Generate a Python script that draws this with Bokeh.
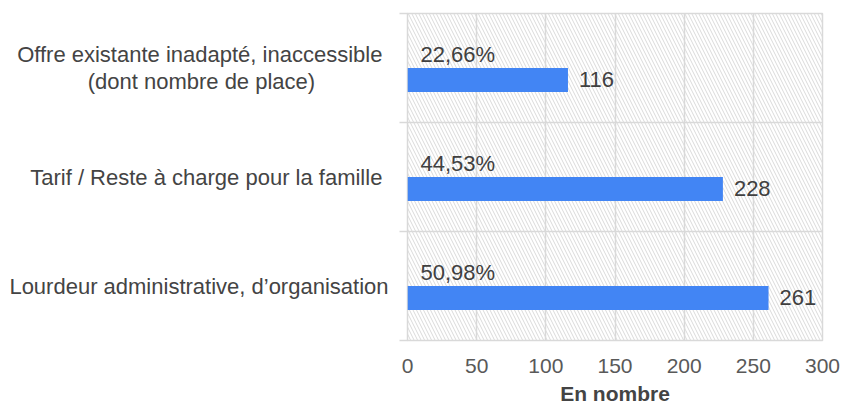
from bokeh.plotting import figure
from bokeh.models import (ColumnDataSource, Range1d, LinearAxis, FixedTicker, BoxAnnotation)
from bokeh.transform import dodge
from bokeh.embed import file_html
from bokeh.resources import INLINE
from bokeh.core.properties import value

NB = "\u00a0"
# Data (bottom to top)
categories = ["Lourdeur administrative, d\u2019organisation",
              "Tarif / Reste \u00e0 charge pour la famille" + NB,
              "Offre existante inadapt\u00e9, inaccessible" + NB + "\n(dont nombre de place)" + NB * 12]
counts = [261, 228, 116]
percents = [50.98, 44.53, 22.66]
x_ticks = [0, 50, 100, 150, 200, 250, 300]

FONT = "Liberation Sans"
GRID = "#d9d9d9"
n = len(categories)
centers = [i + 0.5 for i in range(n)]
bounds = list(range(n + 1))

src = ColumnDataSource(dict(
    pos=centers,
    count=counts,
    count_label=[str(c) for c in counts],
    pct_label=[("%.2f%%" % p).replace(".", ",") for p in percents],
    zero=[0] * n,
))

p = figure(width=841, height=407, output_backend="svg", toolbar_location=None,
           y_range=Range1d(0, n), x_range=Range1d(0, 300),
           y_axis_location=None, x_axis_location=None,
           min_border_left=407, min_border_right=19, min_border_top=13, min_border_bottom=67)

p.outline_line_color = GRID
p.outline_line_width = 1.5

# hatched background
p.add_layout(BoxAnnotation(fill_color=None, line_color=None, hatch_pattern="\\",
                           hatch_color="#dadada", hatch_scale=7, hatch_weight=1,
                           level="underlay"))

# x axis
xaxis = LinearAxis(ticker=FixedTicker(ticks=x_ticks), axis_line_color=None,
                   major_tick_line_color=None, major_tick_out=0, minor_tick_line_color=None,
                   major_label_text_font=FONT, major_label_text_font_size="21px",
                   major_label_text_line_height=1.0,
                   major_label_text_color="#595959", major_label_standoff=18,
                   axis_label="En nombre", axis_label_text_font=FONT,
                   axis_label_text_font_size="21px", axis_label_text_font_style="bold",
                   axis_label_text_line_height=1.0,
                   axis_label_text_color="#444444", axis_label_standoff=6)
p.add_layout(xaxis, "below")

# category labels, with boundary tick marks as minor ticks
yaxis = LinearAxis(ticker=FixedTicker(ticks=centers, minor_ticks=bounds),
                   major_label_overrides={c: lab for c, lab in zip(centers, categories)},
                   axis_line_color=None, major_tick_line_color=None, major_tick_out=0, major_tick_in=0,
                   minor_tick_line_color=GRID, minor_tick_line_width=1.5,
                   minor_tick_out=8, minor_tick_in=0,
                   major_label_text_font=FONT, major_label_text_font_size="22px",
                   major_label_text_line_height=1.05,
                   major_label_text_color="#444444", major_label_standoff=11)
p.add_layout(yaxis, "left")

p.xgrid.ticker = FixedTicker(ticks=x_ticks)
p.xgrid.grid_line_color = GRID
p.xgrid.grid_line_width = 1.5
p.ygrid.ticker = FixedTicker(ticks=bounds)
p.ygrid.grid_line_color = GRID
p.ygrid.grid_line_width = 1.5

p.hbar(y=dodge("pos", -0.11), right="count", left=0, height=0.22,
       source=src, fill_color="#4285F4", line_color=None)

p.text(x="count", y=dodge("pos", -0.11), text="count_label", source=src,
       x_offset=11, text_baseline="middle", text_align="left",
       text_font=value(FONT), text_font_size="22px", text_color="#404040")

p.text(x="zero", y=dodge("pos", 0.12), text="pct_label", source=src,
       x_offset=13, text_baseline="middle", text_align="left",
       text_font=value(FONT), text_font_size="22px", text_color="#404040")

open("out.html", "w").write(file_html(p, INLINE))
